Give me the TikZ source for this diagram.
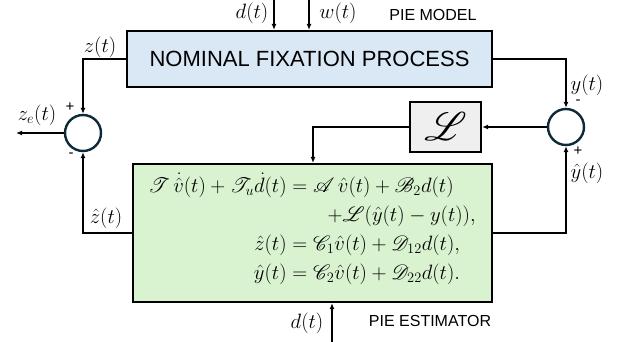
\documentclass[tikz,border=0pt]{standalone}
\usepackage{amsmath,amssymb,mathrsfs}
\usepackage[no-math]{fontspec}
\newfontfamily\labelsans{Liberation Sans}
\usepackage{xcolor}
\usetikzlibrary{positioning}
\usetikzlibrary{arrows.meta}
\definecolor{modelblue}{HTML}{DAE8F6}
\definecolor{estgreen}{HTML}{D9F2D0}
\definecolor{gaingray}{HTML}{EFEFEF}
\definecolor{sumring}{HTML}{0E2A3A}
\tikzset{model/.style = {draw, line width=2.2pt, fill=modelblue, minimum width=365pt,
    minimum height=56pt, inner sep=0, font=\labelsans\fontsize{22}{26}\selectfont}}
\tikzset{estim/.style = {draw, line width=2.2pt, fill=estgreen, minimum width=359pt,
    minimum height=138pt, inner sep=0}}
\tikzset{gain/.style = {draw, line width=2.2pt, fill=gaingray, minimum width=71pt,
    minimum height=50pt, inner sep=0}}
\tikzset{sumc/.style = {circle, draw=sumring, line width=2.4pt, minimum size=36pt, inner sep=0}}
\tikzset{tag/.style = {inner sep=0, font=\labelsans\fontsize{16}{18}\selectfont}}
\tikzset{sgn/.style = {inner sep=0, font=\labelsans\fontsize{15}{16}\selectfont}}
\tikzset{sig/.style = {inner sep=0, font=\fontsize{20}{24}\selectfont}}
\tikzset{conn/.style = {line width=1.3pt, -{Latex[length=6pt,width=5pt]}}}

\begin{document}
\begin{tikzpicture}[x=1pt, y=-1pt]
      \useasboundingbox (0,0) rectangle (624,342);
      % blocks
      \node[model] (plant) at (309.5,59) {NOMINAL FIXATION PROCESS};
      \node[estim] (est) at (312.5,233) {};
      \node[inner sep=0, font=\fontsize{20.5}{24}\selectfont] (eqs) at (312,230) {$\jot=5pt
        \begin{aligned}
          \mathscr{T}\,\dot{\hat{v}}(t)+\mathscr{T}_u\dot{d}(t) &= \mathscr{A}\,\hat{v}(t)+\mathscr{B}_2 d(t)\\
          &\qquad {+}\mathscr{L}(\hat{y}(t)-y(t)),\\
          \hat{z}(t) &= \mathscr{C}_1\hat{v}(t)+\mathscr{D}_{12}d(t),\\
          \hat{y}(t) &= \mathscr{C}_2\hat{v}(t)+\mathscr{D}_{22}d(t).
        \end{aligned}$};
      \node[gain] (Lgain) at (445.5,127) {\scalebox{1.6}{\fontsize{24.88}{28}\selectfont$\mathscr{L}$}};
      \node[sumc] (sumL) at (83,133) {};
      \node[sumc] (sumR) at (566,127) {};
      \node[tag] (modeltag) at (433,15) {PIE MODEL};
      \node[tag] (esttag) at (430,321) {PIE ESTIMATOR};
      % free ends
      \coordinate (dtop) at (274,0);
      \coordinate (wtop) at (309,0);
      \coordinate (dbot) at (332,342);
      \coordinate (zeout) at (16,133);
      \coordinate (estin) at (313,163);
      % connectors
      \draw[conn] (dtop) -- (dtop |- plant.north);
      \draw[conn] (wtop) -- (wtop |- plant.north);
      \draw[conn] (dbot) -- (dbot |- est.south);
      \draw[conn] (plant.west) -| (sumL.north);
      \draw[conn] (plant.east) -| (sumR.north);
      \draw[conn] (sumL.west) -- (zeout);
      \draw[conn] (sumR.west) -- (Lgain.east);
      \draw[conn] (Lgain.west) -| (estin);
      \draw[conn] (est.west) -| (sumL.south);
      \draw[conn] (est.east) -| (sumR.south);
      % signal labels
      \node[sig] (dlab) at (252,13) {$d(t)$};
      \node[sig] (wlab) at (338,13) {$w(t)$};
      \node[sig] (zlab) at (100,47) {$z(t)$};
      \node[sig] (zelab) at (37,115) {$z_e(t)$};
      \node[sig] (ylab) at (587,85) {$y(t)$};
      \node[sig] (yhlab) at (587,173) {$\hat{y}(t)$};
      \node[sig] (zhlab) at (106,218) {$\hat{z}(t)$};
      \node[sig] (dblab) at (307,323) {$d(t)$};
      % signs
      \node[sgn] (pL) at (70,107) {+};
      \node[sgn] (mL) at (71,155) {-};
      \node[sgn] (mR) at (578,102) {-};
      \node[sgn] (pR) at (578,151) {+};
\end{tikzpicture}
\end{document}
